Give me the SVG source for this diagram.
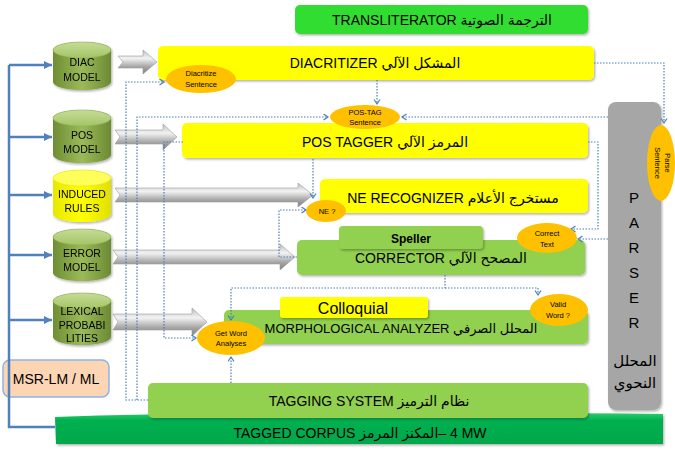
<svg xmlns="http://www.w3.org/2000/svg" width="675" height="451" viewBox="0 0 675 451">
<defs>
<style>
.t{font-family:"Liberation Sans","DejaVu Sans",sans-serif;fill:#000}
.bx{font-size:14px}
.cy{font-size:10.5px;text-anchor:middle}
.el{font-size:7.5px;text-anchor:middle}
.yel{fill:#ffff00}
.lg{fill:#92d050}
.org{fill:#ffc000}
.dot{fill:none;stroke:#4a7ebb;stroke-width:1.2;stroke-dasharray:1.5 1.5;marker-end:url(#oa)}
.blue{fill:none;stroke:#4f81bd;stroke-width:2.5}
.arr{fill:url(#gray);stroke:#9a9a9a;stroke-width:0.6}
.cylg{fill:url(#cg)}
.cylgt{fill:url(#cgt);stroke:#8aab4c;stroke-width:0.5}
</style>
<filter id="sh" x="-10%" y="-10%" width="125%" height="140%">
<feDropShadow dx="1.2" dy="1.5" stdDeviation="1.2" flood-color="#000" flood-opacity="0.3"/>
</filter>
<linearGradient id="gray" x1="0" y1="0" x2="0" y2="1">
<stop offset="0" stop-color="#bfbfbf"/>
<stop offset="0.35" stop-color="#f2f2f2"/>
<stop offset="0.7" stop-color="#a6a6a6"/>
<stop offset="1" stop-color="#808080"/>
</linearGradient>
<linearGradient id="cg" x1="0" y1="0" x2="1" y2="0">
<stop offset="0" stop-color="#6f8d34"/>
<stop offset="0.5" stop-color="#9bbb59"/>
<stop offset="1" stop-color="#6c8a33"/>
</linearGradient>
<linearGradient id="cgt" x1="0" y1="0" x2="0" y2="1">
<stop offset="0" stop-color="#c5dc98"/>
<stop offset="1" stop-color="#a4c565"/>
</linearGradient>
<linearGradient id="cy" x1="0" y1="0" x2="1" y2="0">
<stop offset="0" stop-color="#e8e800"/>
<stop offset="0.5" stop-color="#ffff00"/>
<stop offset="1" stop-color="#e0e000"/>
</linearGradient>
<linearGradient id="corp" x1="0" y1="0" x2="0" y2="1">
<stop offset="0" stop-color="#2fd06a"/>
<stop offset="0.25" stop-color="#00b050"/>
<stop offset="1" stop-color="#00a84a"/>
</linearGradient>
<marker id="ba" markerUnits="userSpaceOnUse" markerWidth="9" markerHeight="9" refX="8" refY="4" orient="auto">
<path d="M0,0 L8,4 L0,8 Z" fill="#4f81bd"/>
</marker>
<marker id="oa" markerUnits="userSpaceOnUse" markerWidth="8" markerHeight="8" refX="5" refY="3.5" orient="auto">
<path d="M0.5,0.5 L5,3.5 L0.5,6.5" fill="none" stroke="#4a7ebb" stroke-width="1.2"/>
</marker>
</defs>
<rect width="675" height="451" fill="#ffffff"/>

<g id="tagged-corpus">
<path d="M55,417 Q250,410 663,414 L663,444 L56,444 Z" fill="url(#corp)" filter="url(#sh)"/>
<text class="t bx" x="360" y="438" text-anchor="middle">TAGGED CORPUS  المكنز المرمز&#x200E;– 4 MW</text>
</g>

<g id="parser">
<rect x="608" y="102" width="53" height="308" rx="8" fill="#a6a6a6" filter="url(#sh)"/>
<g class="t" font-size="15" text-anchor="middle">
<text x="634" y="203">P</text>
<text x="634" y="228">A</text>
<text x="634" y="253">R</text>
<text x="634" y="278">S</text>
<text x="634" y="303">E</text>
<text x="634" y="328">R</text>
<text x="635" y="366">المحلل</text>
<text x="635" y="388">النحوي</text>
</g>
</g>

<g id="transliterator">
<rect x="295" y="5" width="293" height="29" rx="5" fill="#33dd33" filter="url(#sh)"/>
<text class="t bx" x="442" y="25" text-anchor="middle">TRANSLITERATOR الترجمة الصوتية</text>
</g>

<g id="diacritizer">
<rect x="158" y="46" width="436" height="34" rx="5" class="yel" filter="url(#sh)"/>
<text class="t bx" x="375" y="68" text-anchor="middle">DIACRITIZER المشكل الآلي</text>
</g>

<g id="pos-tagger">
<rect x="182" y="123" width="406" height="35" rx="5" class="yel" filter="url(#sh)"/>
<text class="t bx" x="385" y="147" text-anchor="middle">POS TAGGER المرمز الآلي</text>
</g>

<g id="ne-recognizer">
<rect x="320" y="179" width="268" height="34" rx="5" class="yel" filter="url(#sh)"/>
<text class="t bx" x="453" y="203" text-anchor="middle">NE RECOGNIZER مستخرج الأعلام</text>
</g>

<g id="corrector">
<rect x="297" y="240" width="288" height="35" rx="5" class="lg" filter="url(#sh)"/>
<text class="t bx" x="441" y="263" text-anchor="middle">CORRECTOR المصحح الآلي</text>
</g>

<g id="speller">
<rect x="339" y="226" width="144" height="23" rx="4" class="lg" filter="url(#sh)"/>
<text class="t" x="411" y="243" font-size="12" font-weight="bold" text-anchor="middle">Speller</text>
</g>

<g id="morphological-analyzer">
<rect x="224" y="310" width="364" height="34" rx="5" class="lg" filter="url(#sh)"/>
<text class="t" x="401" y="333" font-size="13" text-anchor="middle">MORPHOLOGICAL ANALYZER المحلل الصرفي</text>
</g>

<g id="colloquial">
<rect x="280" y="297" width="148" height="21" rx="3" class="yel" filter="url(#sh)"/>
<text class="t" x="353" y="314" font-size="16" text-anchor="middle">Colloquial</text>
</g>

<g id="tagging-system">
<rect x="148" y="383" width="440" height="35" rx="5" class="lg" filter="url(#sh)"/>
<text class="t bx" x="369" y="406" text-anchor="middle">TAGGING SYSTEM نظام الترميز</text>
</g>

<g id="msr-lm">
<rect x="3" y="360" width="106" height="37" rx="7" fill="#fcd5b5" stroke="#8eb4e3" stroke-width="1.5"/>
<text class="t bx" x="56" y="384" text-anchor="middle">MSR-LM / ML</text>
</g>

<g id="diac-model" filter="url(#sh)">
<path class="cylg" d="M53,50 A29,8 0 0 1 111,50 L111,82 A29,8 0 0 1 53,82 Z"/>
<ellipse class="cylgt" cx="82" cy="50" rx="29" ry="8"/>
<text class="t cy" x="82" y="66">DIAC</text>
<text class="t cy" x="82" y="81">MODEL</text>
</g>
<g id="pos-model" filter="url(#sh)">
<path class="cylg" d="M53,118 A29,8 0 0 1 111,118 L111,155 A29,8 0 0 1 53,155 Z"/>
<ellipse class="cylgt" cx="82" cy="118" rx="29" ry="8"/>
<text class="t cy" x="82" y="139">POS</text>
<text class="t cy" x="82" y="153">MODEL</text>
</g>
<g id="induced-rules" filter="url(#sh)">
<path fill="url(#cy)" d="M53,178 A29,8 0 0 1 111,178 L111,214 A29,8 0 0 1 53,214 Z"/>
<ellipse cx="82" cy="178" rx="29" ry="8" fill="#ffff5a" stroke="#e0e000" stroke-width="0.5"/>
<text class="t cy" x="82" y="198">INDUCED</text>
<text class="t cy" x="82" y="212">RULES</text>
</g>
<g id="error-model" filter="url(#sh)">
<path class="cylg" d="M53,237 A29,8 0 0 1 111,237 L111,273 A29,8 0 0 1 53,273 Z"/>
<ellipse class="cylgt" cx="82" cy="237" rx="29" ry="8"/>
<text class="t cy" x="82" y="257">ERROR</text>
<text class="t cy" x="82" y="271">MODEL</text>
</g>
<g id="lexical-probabilities" filter="url(#sh)">
<path class="cylg" d="M53,301 A29,8 0 0 1 111,301 L111,337 A29,8 0 0 1 53,337 Z"/>
<ellipse class="cylgt" cx="82" cy="301" rx="29" ry="8"/>
<text class="t cy" x="82" y="315">LEXICAL</text>
<text class="t cy" x="82" y="329">PROBABI</text>
<text class="t cy" x="82" y="342">LITIES</text>
</g>

<g id="connectors">
<path class="blue" d="M9,65 V427 H55"/>
<path class="blue" d="M9,65 H52" marker-end="url(#ba)"/>
<path class="blue" d="M9,137 H52" marker-end="url(#ba)"/>
<path class="blue" d="M9,195 H52" marker-end="url(#ba)"/>
<path class="blue" d="M9,255 H52" marker-end="url(#ba)"/>
<path class="blue" d="M9,320 H52" marker-end="url(#ba)"/>

<path class="arr" d="M118,56 H143 V50 L157,62 L143,74 V68 H118 L123,62 Z"/>
<path class="arr" d="M115,130 H163 V124 L177,137 L163,150 V144 H115 L120,137 Z"/>
<path class="arr" d="M115,188 H298 V183 L313,195 L298,207 V202 H115 L120,195 Z"/>
<path class="arr" d="M113,250 H280 V244 L295,257 L280,270 V264 H113 L118,257 Z"/>
<path class="arr" d="M113,314 H192 V308 L207,322 L192,336 V330 H113 L118,322 Z"/>

<path class="dot" d="M148,400 H126 V82 H164"/>
<path class="dot" d="M137,400 V117 H328"/>
<path class="dot" d="M183,142 H164 V338 H196"/>
<path class="dot" d="M377,80 V104"/>
<path class="dot" d="M608,117 H402"/>
<path class="dot" d="M594,63 H664 V123"/>
<path class="dot" d="M588,142 H598 V229 H571"/>
<path class="dot" d="M608,239 H578"/>
<path class="dot" d="M313,159 V198"/>
<path class="dot" d="M297,257 H279 V210 H306"/>
<path class="dot" d="M445,275 V288 H231 V320"/>
<path class="dot" d="M445,288 H538 V295"/>
<path class="dot" d="M231,383 V357"/>
</g>

<g id="diacritize-sentence">
<ellipse cx="201" cy="79" rx="35" ry="14" class="org"/>
<text class="t el" x="201" y="76" font-size="8">Diacritize</text>
<text class="t el" x="201" y="87" font-size="8">Sentence</text>
</g>
<g id="pos-tag-sentence">
<ellipse cx="365" cy="117" rx="35" ry="12" class="org"/>
<text class="t el" x="365" y="115">POS-TAG</text>
<text class="t el" x="365" y="125">Sentence</text>
</g>
<g id="ne-q">
<ellipse cx="326" cy="211" rx="20" ry="11" class="org"/>
<text class="t el" x="327" y="214">NE ?</text>
</g>
<g id="correct-text">
<ellipse cx="547" cy="238" rx="30" ry="15" class="org"/>
<text class="t el" x="547" y="236" font-size="8">Correct</text>
<text class="t el" x="547" y="247" font-size="8">Text</text>
</g>
<g id="valid-word">
<ellipse cx="559" cy="310" rx="29" ry="16" class="org"/>
<text class="t el" x="558" y="307" font-size="8">Valid</text>
<text class="t el" x="558" y="318" font-size="8">Word ?</text>
</g>
<g id="get-word-analyses">
<ellipse cx="231" cy="338" rx="34" ry="17" class="org"/>
<text class="t el" x="231" y="336">Get Word</text>
<text class="t el" x="231" y="346">Analyses</text>
</g>
<g id="parse-sentence">
<ellipse cx="661" cy="163" rx="14" ry="38" class="org"/>
<text class="t el" transform="translate(665,163) rotate(90)">Parse</text>
<text class="t el" transform="translate(655,163) rotate(90)">Sentence</text>
</g>
</svg>
